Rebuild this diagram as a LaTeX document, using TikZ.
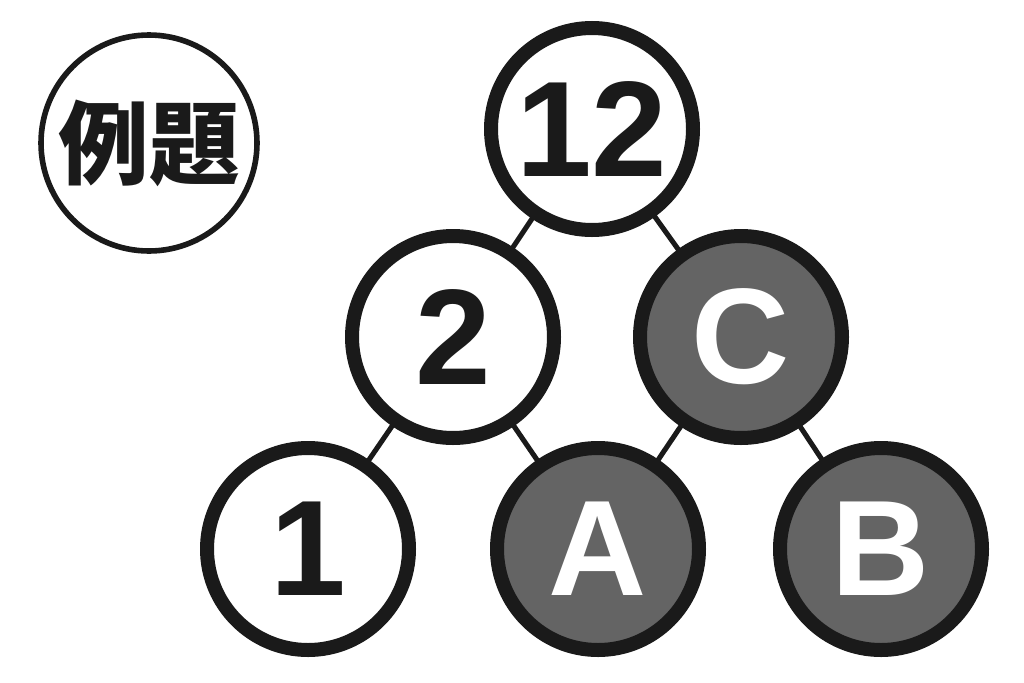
\documentclass[tikz,border=0pt]{standalone}
\usepackage{fontspec}
\setmainfont{Liberation Sans}
\newfontfamily\cjk{Noto Sans CJK JP}
\usetikzlibrary{backgrounds}
\definecolor{ink}{HTML}{1A1A1A}
\definecolor{shade}{HTML}{646464}
\tikzset{
  numnode/.style={circle, draw=ink, line width=10.5pt, fill=white, inner sep=0pt,
    minimum size=151.5pt, text=ink, font=\fontsize{102}{102}\selectfont\bfseries},
  letnode/.style={numnode, fill=shade, text=white},
  titlenode/.style={circle, draw=ink, line width=4.2pt, fill=white, inner sep=0pt,
    minimum size=162pt, text=ink, font=\cjk\fontsize{68}{68}\selectfont\bfseries},
  link/.style={draw=ink, line width=3.8pt}
}
\begin{document}
\begin{tikzpicture}[x=0.75pt, y=-0.75pt]
\useasboundingbox (0,0) rectangle (1024,682);
\node[titlenode] (title) at (149,143) {例題};
\node[numnode] (n12) at (592,129) {12};
\node[numnode] (n2) at (453,337) {2};
\node[letnode] (nC) at (741,337) {C};
\node[numnode] (n1) at (308,549) {1};
\node[letnode] (nA) at (598,549) {A};
\node[letnode] (nB) at (881,549) {B};
\begin{scope}[on background layer]
\fill[white] (0,0) rectangle (1024,682);
\draw[link] (n12.center) -- (n2.center);
\draw[link] (n12.center) -- (nC.center);
\draw[link] (n2.center) -- (n1.center);
\draw[link] (n2.center) -- (nA.center);
\draw[link] (nC.center) -- (nA.center);
\draw[link] (nC.center) -- (nB.center);
\end{scope}
\end{tikzpicture}
\end{document}
